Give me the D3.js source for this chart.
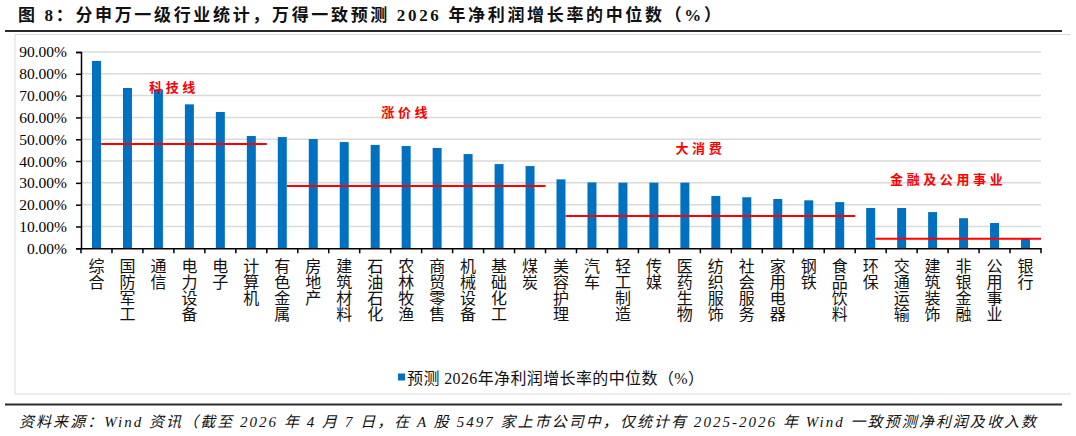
<!DOCTYPE html>
<html>
<head>
<meta charset="utf-8">
<script src="https://cdn.jsdelivr.net/npm/d3@7"></script>
<style>
	body { margin: 0; background: #fff; }
	svg { display: block; }
</style>
</head>
<body>
<div id="chart"></div>
<script>
var categories = ['综合','国防军工','通信','电力设备','电子','计算机','有色金属','房地产','建筑材料','石油石化',
	'农林牧渔','商贸零售','机械设备','基础化工','煤炭','美容护理','汽车','轻工制造','传媒','医药生物',
	'纺织服饰','社会服务','家用电器','钢铁','食品饮料','环保','交通运输','建筑装饰','非银金融','公用事业','银行']
var values = [85.9, 73.5, 72.9, 66.0, 62.5, 51.5, 51.0, 50.1, 48.7, 47.4,
	46.9, 46.0, 43.2, 38.6, 37.7, 31.6, 30.2, 30.1, 30.1, 30.1,
	24.0, 23.4, 22.6, 22.0, 21.2, 18.5, 18.5, 16.6, 13.8, 11.6, 4.7]
var yTicks = [0, 10, 20, 30, 40, 50, 60, 70, 80, 90]

// group lines drawn on top of the bars
var groupNames = ['科技线', '涨价线', '大消费', '金融及公用事业']
var groupFirst = ['综合', '有色金属', '美容护理', '环保']
var groupLast = ['计算机', '煤炭', '食品饮料', '银行']
var groupValues = [47.8, 28.6, 14.8, 4.4]
var groupLabelAt = [74.4, 62.9, 46.4, 32.2]

var title = '图 8：分申万一级行业统计，万得一致预测 2026 年净利润增长率的中位数（%）'
var legendLabel = '预测 2026年净利润增长率的中位数（%）'
var source = '资料来源：Wind 资讯（截至 2026 年 4 月 7 日，在 A 股 5497 家上市公司中，仅统计有 2025-2026 年 Wind 一致预测净利润及收入数'

var width = 1076, height = 436
var plotLeft = 81, plotRight = 1041, plotTop = 52, plotBottom = 248.3
var serif = '"Liberation Serif", "Noto Sans CJK SC", serif'
var cjk = '"Noto Sans CJK SC", sans-serif'

var svg = d3.select('#chart').append('svg')
	.attr('width', width).attr('height', height)

// title + rules
svg.append('text')
	.attr('x', 18).attr('y', 21)
	.attr('textLength', 703).attr('lengthAdjust', 'spacing')
	.style('font-family', serif).style('font-weight', 'bold').style('font-size', '17px')
	.attr('fill', '#111')
	.text(title)
svg.append('line').attr('x1', 5).attr('x2', 1062).attr('y1', 31).attr('y2', 31)
	.attr('stroke', '#2b2b2b').attr('stroke-width', 2)
svg.append('line').attr('x1', 5).attr('x2', 1062).attr('y1', 404.5).attr('y2', 404.5)
	.attr('stroke', '#2b2b2b').attr('stroke-width', 2)

// chart frame (no right edge)
svg.append('path')
	.attr('d', 'M1071,34.5 H15 V394 H1071')
	.attr('fill', 'none').attr('stroke', '#d9d9d9').attr('stroke-width', 1)

var x = d3.scaleBand()
	.domain(categories)
	.range([plotLeft, plotRight])
	.paddingInner(0.71)
	.paddingOuter(0.355)

var y = d3.scaleLinear()
	.domain([0, 90])
	.range([plotBottom, plotTop])

// gridlines
svg.append('g')
	.selectAll('line').data(yTicks.filter(d => d > 0))
	.enter().append('line')
		.attr('x1', plotLeft).attr('x2', plotRight)
		.attr('y1', d => y(d)).attr('y2', d => y(d))
		.attr('stroke', '#dadada').attr('stroke-width', 1.5)

// bars
svg.append('g')
	.selectAll('rect').data(values)
	.enter().append('rect')
		.attr('x', (d, i) => x(categories[i]))
		.attr('y', d => y(d))
		.attr('width', x.bandwidth())
		.attr('height', d => y(0) - y(d))
		.attr('fill', '#0070c0')

// y axis
var yAxis = svg.append('g')
	.attr('transform', `translate(${plotLeft},0)`)
	.call(d3.axisLeft(y).tickValues(yTicks).tickSize(5).tickPadding(9)
		.tickFormat(d => d3.format('.2f')(d) + '%'))
yAxis.select('.domain').attr('stroke', '#000').attr('stroke-width', 1.5)
yAxis.selectAll('.tick line').attr('stroke', '#000').attr('stroke-width', 1.5)
yAxis.selectAll('.tick text')
	.style('font-family', serif).style('font-size', '15.5px').attr('fill', '#000')

// x axis: ticks on band boundaries, labels written top-to-bottom
var xAxis = svg.append('g')
	.attr('transform', `translate(0,${plotBottom})`)
	.call(d3.axisBottom(x).tickSize(0).tickSizeOuter(0))
xAxis.select('.domain').attr('stroke', '#000').attr('stroke-width', 1.5)
xAxis.selectAll('.tick text')
	.attr('x', 0).attr('y', 10).attr('dy', null)
	.attr('text-anchor', 'start')
	.style('writing-mode', 'vertical-rl')
	.style('text-orientation', 'upright')
	.style('font-family', cjk).style('font-size', '16px')
	.attr('fill', '#111')
xAxis.selectAll('.tick').append('line')
	.attr('x1', x.step() / 2).attr('x2', x.step() / 2)
	.attr('y1', 0).attr('y2', 5)
	.attr('stroke', '#000').attr('stroke-width', 1.5)
xAxis.append('line')
	.attr('x1', plotLeft).attr('x2', plotLeft).attr('y1', 0).attr('y2', 5)
	.attr('stroke', '#000').attr('stroke-width', 1.5)

// group lines + labels
var groups = svg.append('g')
groupNames.forEach((name, i) => {
	var x1 = x(groupFirst[i]) - x.step() * x.paddingInner() / 2 + x.step() * 0.65
	var x2 = x(groupLast[i]) - x.step() * x.paddingInner() / 2 + x.step()
	groups.append('line')
		.attr('x1', x1).attr('x2', x2)
		.attr('y1', y(groupValues[i])).attr('y2', y(groupValues[i]))
		.attr('stroke', '#ff0000').attr('stroke-width', 2)
	groups.append('text')
		.attr('x', (x1 + x2) / 2 - 10)
		.attr('y', y(groupLabelAt[i]))
		.attr('text-anchor', 'middle')
		.attr('dominant-baseline', 'central')
		.style('font-family', cjk).style('font-weight', 'bold').style('font-size', '13px')
		.style('letter-spacing', '3.6px')
		.attr('fill', '#ff0000')
		.text(name)
})

// legend
svg.append('rect')
	.attr('x', 398).attr('y', 373.5).attr('width', 7).attr('height', 7)
	.attr('fill', '#0070c0')
svg.append('text')
	.attr('x', 407).attr('y', 378.5)
	.attr('dominant-baseline', 'central')
	.attr('textLength', 297).attr('lengthAdjust', 'spacing')
	.style('font-family', serif).style('font-size', '16px')
	.attr('fill', '#111')
	.text(legendLabel)

// source
svg.append('text')
	.attr('x', 19).attr('y', 427)
	.attr('textLength', 1017).attr('lengthAdjust', 'spacing')
	.style('font-family', serif).style('font-style', 'italic').style('font-size', '15px')
	.attr('fill', '#111')
	.text(source)
</script>
</body>
</html>
